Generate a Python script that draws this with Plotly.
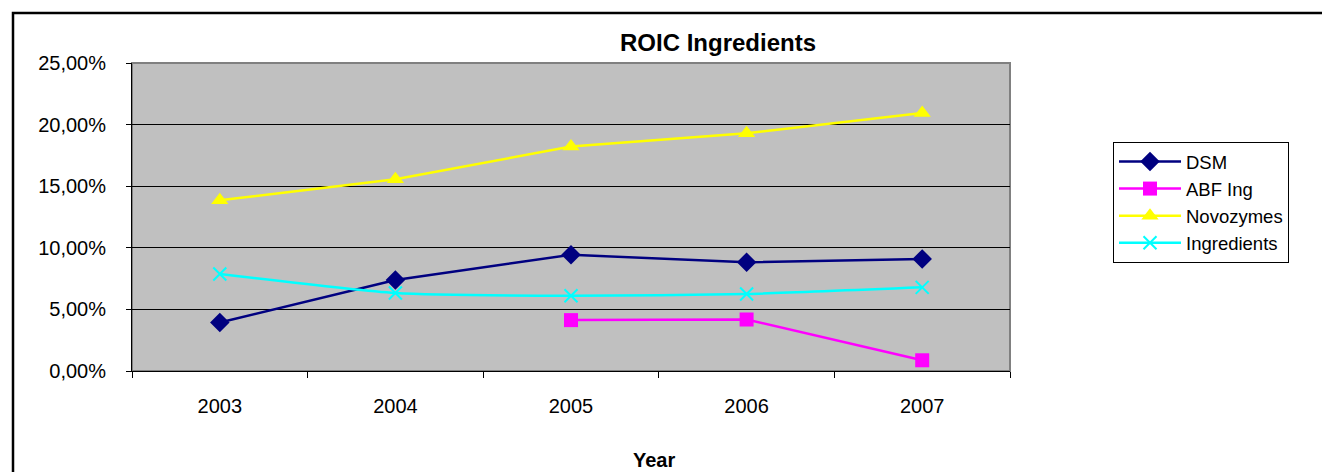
import plotly.graph_objects as go

years = ["2003", "2004", "2005", "2006", "2007"]
dsm = [0.0394, 0.0739, 0.0943, 0.0883, 0.0910]
abf_ing = [None, None, 0.0413, 0.0418, 0.0087]
novozymes = [0.1386, 0.1556, 0.1822, 0.1930, 0.2094]
ingredients = [0.0788, 0.0633, 0.0611, 0.0625, 0.0679]

# the page body adds an 8px margin; work in figure coordinates = screen - 8
OFF = 8
W, H = 1330 - OFF, 472 - OFF
L, R, T, B = 132 - OFF, 1010 - OFF, 63 - OFF, 371 - OFF
PW, PH = R - L, B - T


def px(x):
    return (x - OFF - L) / PW


def py(y):
    return (B - (y - OFF)) / PH


FONT = "Liberation Sans, Arial, sans-serif"

fig = go.Figure()
fig.add_trace(go.Scatter(x=years, y=dsm, name="DSM", mode="lines+markers",
                         line=dict(color="#000080", width=2.5),
                         marker=dict(symbol="diamond", size=15, color="#000080")))
fig.add_trace(go.Scatter(x=years, y=abf_ing, name="ABF Ing", mode="lines+markers",
                         line=dict(color="#FF00FF", width=2.5),
                         marker=dict(symbol="square", size=14, color="#FF00FF")))
fig.add_trace(go.Scatter(x=years, y=novozymes, name="Novozymes", mode="lines+markers",
                         line=dict(color="#FFFF00", width=2.5),
                         marker=dict(symbol="triangle-up", size=15, color="#FFFF00")))
fig.add_trace(go.Scatter(x=years, y=ingredients, name="Ingredients", mode="lines+markers",
                         line=dict(color="#00FFFF", width=2.5, shape="spline", smoothing=0.6),
                         marker=dict(symbol="x-thin", size=13, color="#00FFFF",
                                     line=dict(color="#00FFFF", width=2))))

fig.update_layout(
    width=W, height=H,
    margin=dict(l=L, r=W - R, t=T, b=H - B, pad=0),
    paper_bgcolor="white",
    plot_bgcolor="#C0C0C0",
    separators=",.",
    font=dict(family=FONT, size=20, color="black"),
    showlegend=True,
    legend=dict(x=px(1113), y=py(142), xanchor="left", yanchor="top",
                bordercolor="black", borderwidth=1, bgcolor="white",
                font=dict(family=FONT, size=18.5, color="black"),
                itemwidth=62, tracegroupgap=0),
    xaxis=dict(type="category", range=[-0.5, 4.5], tickson="boundaries",
               ticks="outside", ticklen=6, tickcolor="black", tickwidth=1,
               showline=True, linecolor="black", linewidth=1,
               showgrid=False, zeroline=False, ticklabelstandoff=17,
               tickfont=dict(family=FONT, size=20, color="black")),
    yaxis=dict(range=[0, 0.25], dtick=0.05, tick0=0, tickformat=".2%",
               ticks="outside", ticklen=5, tickcolor="black", tickwidth=1,
               showline=True, linecolor="black", linewidth=1,
               showgrid=True, gridcolor="black", gridwidth=1,
               zeroline=False, ticklabelstandoff=16,
               tickfont=dict(family=FONT, size=20, color="black")),
    annotations=[
        dict(text="<b>ROIC Ingredients</b>", x=px(718), y=py(42), xref="paper", yref="paper",
             xanchor="center", yanchor="middle", showarrow=False,
             font=dict(family=FONT, size=24, color="black")),
        dict(text="<b>Year</b>", x=px(654), y=py(460), xref="paper", yref="paper",
             xanchor="center", yanchor="middle", showarrow=False,
             font=dict(family=FONT, size=20, color="black")),
    ],
    shapes=[
        dict(type="rect", xref="paper", yref="paper", x0=0, x1=1, y0=0, y1=1,
             line=dict(color="#808080", width=2), layer="below"),
        dict(type="rect", xref="paper", yref="paper", x0=px(13), x1=px(1345),
             y0=py(485), y1=py(13), line=dict(color="black", width=2.5)),
    ],
)

fig.write_html("out.html")
